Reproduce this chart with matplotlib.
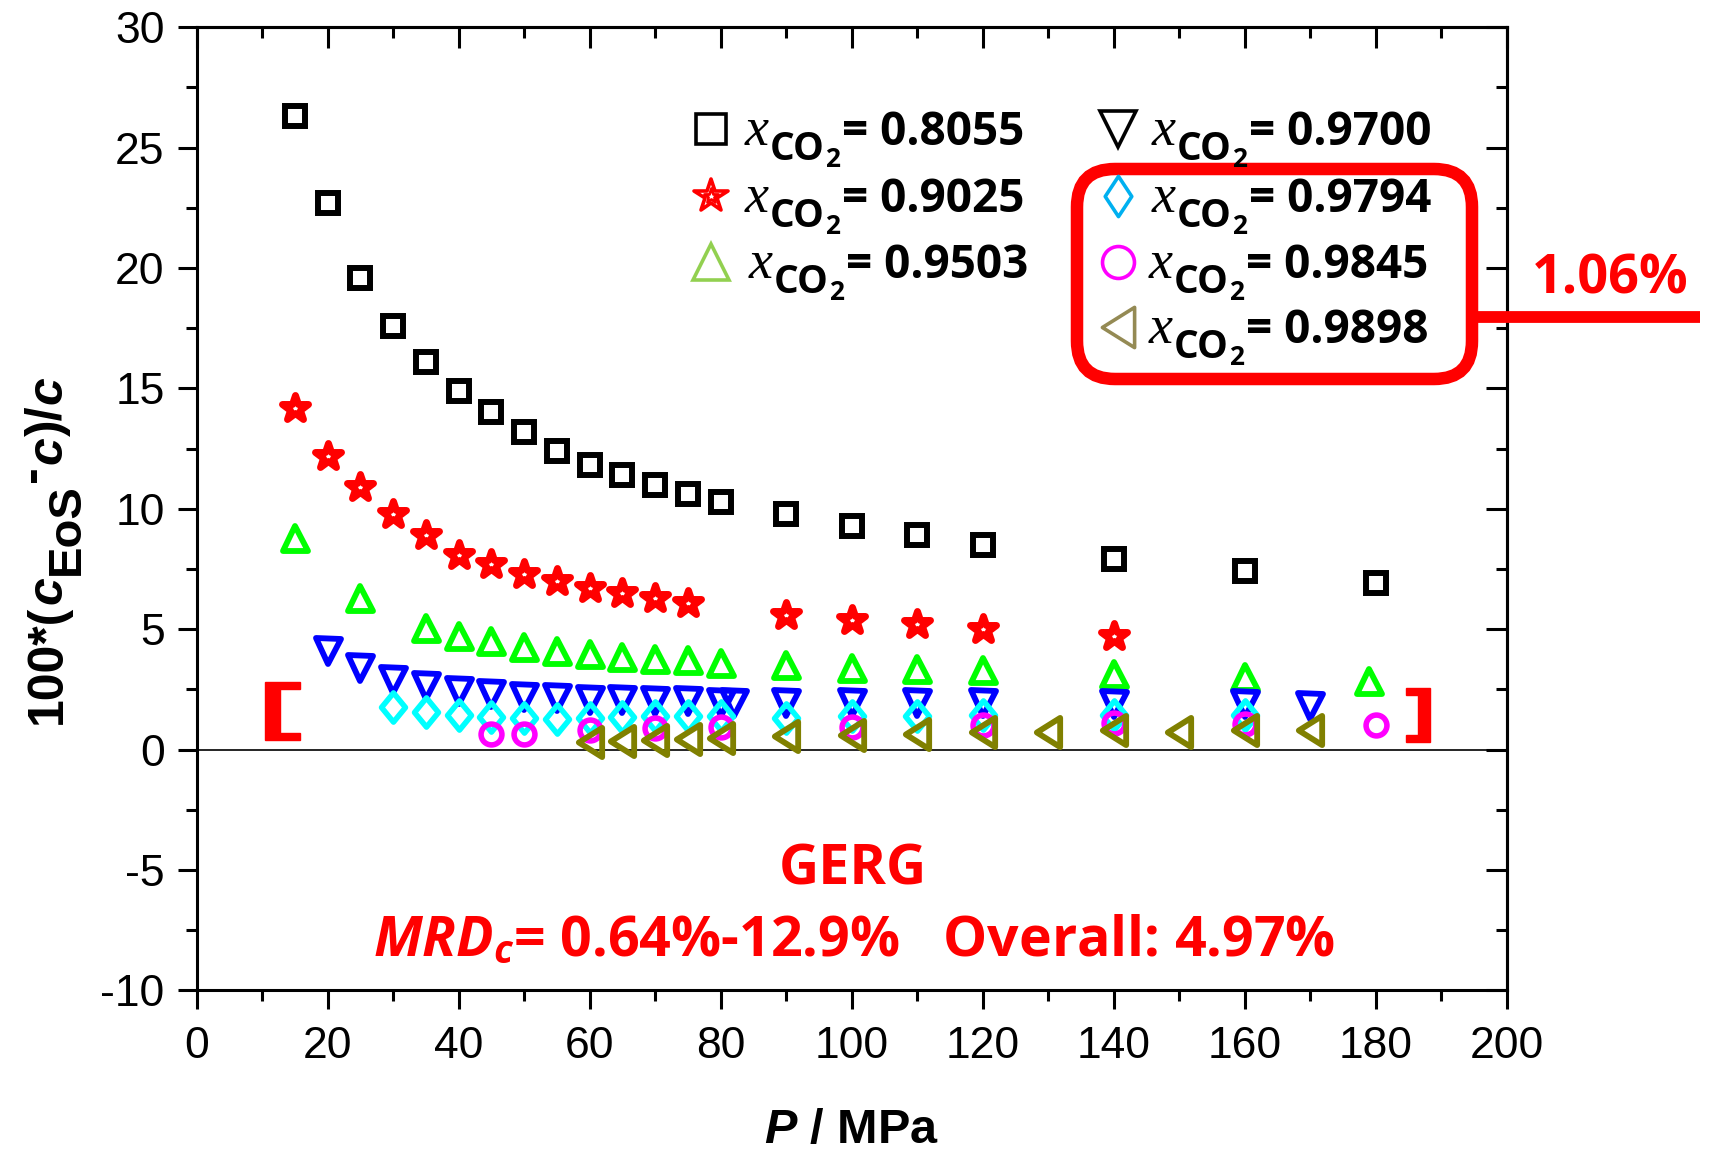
import matplotlib
matplotlib.use('Agg')
import numpy as np
import matplotlib.pyplot as plt
from matplotlib.markers import MarkerStyle
from matplotlib.path import Path
from matplotlib.patches import FancyBboxPatch, Polygon
from matplotlib.lines import Line2D
from matplotlib.transforms import IdentityTransform
from matplotlib.ticker import MultipleLocator

# ---------------- data ----------------
p_8055 = [15, 20, 25, 30, 35, 40, 45, 50, 55, 60, 65, 70, 75, 80, 90, 100, 110, 120, 140, 160, 180]
d_8055 = [26.3, 22.7, 19.6, 17.6, 16.1, 14.9, 14.0, 13.2, 12.4, 11.8, 11.4, 11.0, 10.6, 10.3, 9.8, 9.3, 8.9, 8.5, 7.9, 7.4, 6.9]

p_9025 = [15, 20, 25, 30, 35, 40, 45, 50, 55, 60, 65, 70, 75, 90, 100, 110, 120, 140]
d_9025 = [14.2, 12.2, 10.9, 9.8, 8.9, 8.1, 7.7, 7.3, 7.0, 6.7, 6.5, 6.3, 6.1, 5.6, 5.4, 5.2, 5.0, 4.7]

p_9503 = [15, 25, 35, 40, 45, 50, 55, 60, 65, 70, 75, 80, 90, 100, 110, 120, 140, 160, 179]
d_9503 = [8.8, 6.3, 5.05, 4.7, 4.5, 4.25, 4.1, 3.95, 3.85, 3.75, 3.7, 3.6, 3.5, 3.4, 3.35, 3.3, 3.15, 3.0, 2.85]

p_9700 = [20, 25, 30, 35, 40, 45, 50, 55, 60, 65, 70, 75, 80, 82, 90, 100, 110, 120, 140, 160, 170]
d_9700 = [4.1, 3.4, 2.9, 2.65, 2.45, 2.3, 2.2, 2.15, 2.05, 2.05, 2.0, 2.0, 1.95, 1.95, 1.95, 1.95, 1.95, 1.95, 1.9, 1.9, 1.8]

p_9794 = [30, 35, 40, 45, 50, 55, 60, 65, 70, 75, 80, 90, 100, 110, 120, 140, 160]
d_9794 = [1.75, 1.55, 1.45, 1.35, 1.3, 1.25, 1.3, 1.35, 1.4, 1.4, 1.4, 1.3, 1.4, 1.4, 1.45, 1.45, 1.45]

p_9845 = [45, 50, 60, 70, 80, 100, 120, 140, 160, 180]
d_9845 = [0.66, 0.66, 0.8, 0.9, 0.95, 0.95, 1.0, 1.1, 1.05, 1.02]

p_9898 = [60, 65, 70, 75, 80, 90, 100, 110, 120, 130, 140, 150, 160, 170]
d_9898 = [0.33, 0.35, 0.4, 0.45, 0.5, 0.55, 0.6, 0.65, 0.75, 0.75, 0.8, 0.75, 0.8, 0.8]

legend_values = ["0.8055", "0.9025", "0.9503", "0.9700", "0.9794", "0.9845", "0.9898"]
x_ticks = [0, 20, 40, 60, 80, 100, 120, 140, 160, 180, 200]
y_ticks = [-10, -5, 0, 5, 10, 15, 20, 25, 30]

# ---------------- style ----------------
plt.rcParams['font.family'] = ['Liberation Sans', 'DejaVu Sans']
plt.rcParams['axes.linewidth'] = 2.2
plt.rcParams['axes.unicode_minus'] = False
plt.rcParams['mathtext.fontset'] = 'custom'
plt.rcParams['mathtext.it'] = 'Liberation Serif:italic'
plt.rcParams['mathtext.rm'] = 'Open Sans:bold'
plt.rcParams['mathtext.bf'] = 'Open Sans:bold'
plt.rcParams['mathtext.sf'] = 'Liberation Sans:bold'
plt.rcParams['mathtext.tt'] = 'Liberation Sans:bold:italic'
plt.rcParams['mathtext.cal'] = 'Open Sans:bold:italic'

W, H = 1712, 1151
fig = plt.figure(figsize=(W / 100, H / 100), dpi=100)
ax = fig.add_axes([0.1148, 0.1396, 0.7653, 0.8367])
renderer = fig.canvas.get_renderer()
ID = IdentityTransform()

diamond = MarkerStyle(Path(np.array([[0, 1], [0.82, 0], [0, -1], [-0.82, 0], [0, 1]]), closed=True))
diamond_leg = MarkerStyle(Path(np.array([[0, 1], [0.66, 0], [0, -1], [-0.66, 0], [0, 1]]), closed=True))
ltri = MarkerStyle(Path(np.array([[0.8, 1], [-0.8, 0], [0.8, -1], [0.8, 1]]), closed=True))

series = [
    (p_8055, d_8055, MarkerStyle('s', joinstyle='miter'), '#000000', 14, 4.3),
    (p_9025, d_9025, MarkerStyle('*', joinstyle='round'), '#FF0000', 19, 5.0),
    (p_9503, d_9503, MarkerStyle('^', joinstyle='round'), '#00FF00', 18, 4.2),
    (p_9700, d_9700, MarkerStyle('v', joinstyle='round'), '#0000FF', 18, 4.2),
    (p_9794, d_9794, diamond, '#00FFFF', 21, 4.0),
    (p_9845, d_9845, MarkerStyle('o'), '#FF00FF', 15, 4.0),
    (p_9898, d_9898, ltri, '#808000', 21, 4.2),
]
for p, d, m, c, s, w in series:
    ax.plot(p, d, linestyle='none', marker=m, ms=s, mec=c, mfc='none', mew=w, clip_on=False)

ax.axhline(0, color='black', lw=1.2, zorder=0.5)

ax.set_xlim(0, 200)
ax.set_ylim(-10, 30)
ax.set_xticks(x_ticks)
ax.set_yticks(y_ticks)
ax.xaxis.set_minor_locator(MultipleLocator(10))
ax.yaxis.set_minor_locator(MultipleLocator(2.5))
ax.tick_params(which='major', direction='out', length=14, width=2.2, labelsize=32)
ax.tick_params(which='minor', direction='out', length=8, width=2.2)
ax.tick_params(axis='x', which='major', pad=12)
ax.tick_params(axis='y', which='major', pad=9)

secx = ax.secondary_xaxis('top')
secx.set_xticks(x_ticks)
secx.xaxis.set_minor_locator(MultipleLocator(10))
secx.tick_params(which='major', direction='in', length=15, width=2.2, labeltop=False)
secx.tick_params(which='minor', direction='in', length=8, width=2.2)
secy = ax.secondary_yaxis('right')
secy.set_yticks(y_ticks)
secy.yaxis.set_minor_locator(MultipleLocator(2.5))
secy.tick_params(which='major', direction='in', length=15, width=2.2, labelright=False)
secy.tick_params(which='minor', direction='in', length=8, width=2.2)

# ---------- y label, built piece by piece (rotated) ----------
LS = dict(family='Liberation Sans', fontweight='bold')
LSI = dict(family='Liberation Sans', fontweight='bold', style='italic')
ylab_parts = [("100*(", LS, 36, 0), ("c", LSI, 36, 0), ("EoS", LS, 34, 18),
              ("-", LS, 36, -15), ("c", LSI, 36, 0), (")/", LS, 36, 0), ("c", LSI, 36, 0)]
xb, yc = 61, H - 724
for s, props, fs, dy in ylab_parts:
    t = fig.text(xb + dy, yc, s, transform=ID, rotation=90, rotation_mode='anchor',
                 ha='left', va='baseline', fontsize=fs, **props)
    yc = t.get_window_extent(renderer).y1 + 1

fig.text(852 / W, 1 - 1130 / H, r"$\mathtt{P}$ / MPa", ha='center', va='center',
         fontsize=35, fontweight='bold')

# ---------- legend (manual) ----------
leg_colors = ['#000000', '#FF0000', '#92D050', '#000000', '#00B0F0', '#FF00FF', '#948A54']
leg_markers = [MarkerStyle('s', joinstyle='miter'), MarkerStyle('*', joinstyle='round'),
               MarkerStyle('^', joinstyle='miter'), MarkerStyle('v', joinstyle='miter'),
               diamond_leg, MarkerStyle('o'), ltri]
leg_sizes = [21, 25, 26, 26, 29, 23, 29]
leg_pos = [(711, 129, 745), (711, 196, 745), (711, 262, 749),
           (1118, 129, 1152), (1118, 196, 1152), (1118, 262, 1149), (1118, 327, 1149)]
OS = dict(family='Open Sans', fontweight='bold')
XS = dict(family='Liberation Serif', style='italic')
for i, (val, c, m, s, (mx, my, tx)) in enumerate(zip(legend_values, leg_colors, leg_markers, leg_sizes, leg_pos)):
    fig.lines.append(Line2D([mx], [H - my], transform=ID, linestyle='none',
                            marker=m, ms=s, mec=c, mfc='none', mew=2.6))
    if i == 1:
        fig.lines.append(Line2D([mx], [H - my], transform=ID, linestyle='none',
                                marker=m, ms=11, mec=c, mfc='none', mew=2.0))
    base = H - (my + 16)
    x = tx
    for s_txt, props, fs, dy, gap in [("x", XS, 39, 0, 1), ("CO", OS, 28, 15, 0),
                                      ("2", OS, 19, 22, 2), ("= " + val, OS, 33, 0, 0)]:
        t = fig.text(x, base - dy, s_txt, transform=ID, ha='left', va='baseline', fontsize=fs, **props)
        x = t.get_window_extent(renderer).x1 + gap

# ---------- rounded red box and connector ----------
box = FancyBboxPatch((1077, H - 379), 1472 - 1077, 379 - 169,
                     boxstyle='round,pad=0,rounding_size=38', transform=ID,
                     fill=False, ec='#FF0000', lw=9)
fig.patches.append(box)
fig.lines.append(Line2D([1472, 1700], [H - 317, H - 317], transform=ID,
                        color='#FF0000', lw=8.5, solid_capstyle='butt'))
fig.text(1688 / W, 1 - 280 / H, "1.06%", ha='right', va='center', fontsize=39,
         color='#FF0000', **OS)

# ---------- brackets ----------
def bracket(pts):
    fig.patches.append(Polygon([(x, H - y) for x, y in pts], closed=True,
                               transform=ID, fc='#FF0000', ec='#FF0000', lw=1))

bracket([(265, 682), (300, 682), (300, 689), (280, 689), (280, 733), (300, 733), (300, 740), (265, 740)])
bracket([(1406, 688), (1430, 688), (1430, 742), (1406, 742), (1406, 735), (1418, 735), (1418, 695), (1406, 695)])

# ---------- annotations ----------
fig.text(853 / W, 1 - 870 / H, "GERG", ha='center', va='center', fontsize=40,
         color='#FF0000', **OS)
fig.text(854 / W, 1 - 942 / H, r"$\mathcal{MRD}_{\mathcal{c}}$= 0.64%-12.9%   Overall: 4.97%",
         ha='center', va='center', fontsize=40, color='#FF0000', **OS)

fig.savefig('out.png', dpi=100)
